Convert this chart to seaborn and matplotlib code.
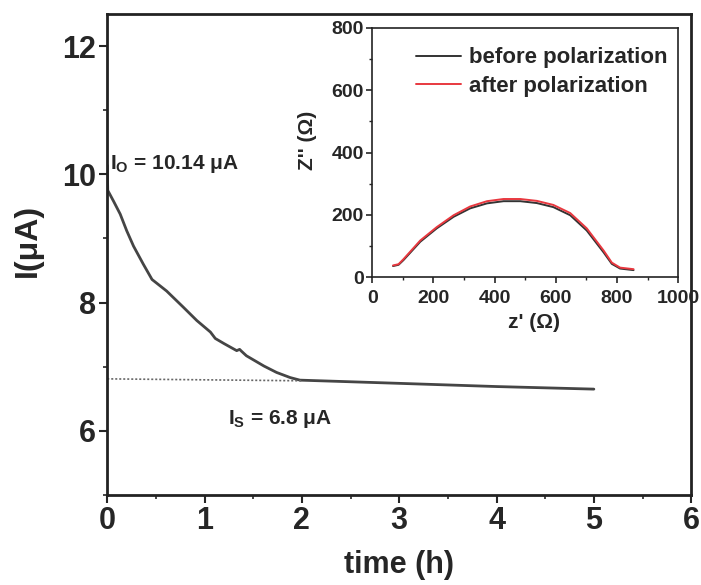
import numpy as np
import pandas as pd
import seaborn as sns
import matplotlib.pyplot as plt
from matplotlib.ticker import MultipleLocator

# Main polarization curve: current (uA) vs time (h)
time_h = [0.0, 0.005, 0.065, 0.133, 0.20, 0.27, 0.37, 0.46, 0.61, 0.78, 0.92, 1.06, 1.11,
          1.20, 1.33, 1.36, 1.38, 1.43, 1.61, 1.74, 1.88, 1.98, 2.39, 3.0, 4.0, 5.0]
current_ua = [10.14, 9.75, 9.58, 9.38, 9.12, 8.88, 8.60, 8.36, 8.18, 7.93, 7.72, 7.54, 7.44,
              7.36, 7.25, 7.27, 7.24, 7.17, 7.01, 6.91, 6.83, 6.79, 6.77, 6.74, 6.69, 6.65]

# steady state guide line
steady_t = [0.0, 2.0]
steady_i = [6.81, 6.78]

# Inset: impedance spectra
zre_before = [68, 86, 102, 157, 211, 266, 320, 375, 429, 484, 538, 592, 647, 701, 756, 783, 810, 854]
zim_before = [36, 40, 55, 114, 157, 194, 221, 237, 244, 244, 238, 225, 199, 150, 80, 43, 28, 23]
zre_after = [68, 86, 102, 157, 211, 266, 320, 375, 429, 484, 538, 592, 647, 701, 756, 783, 810, 854]
zim_after = [38, 42, 58, 118, 161, 199, 227, 244, 251, 251, 245, 232, 206, 157, 86, 47, 31, 26]

df_main = pd.DataFrame({'time': time_h, 'I': current_ua})
df_before = pd.DataFrame({'zre': zre_before, 'zim': zim_before})
df_after = pd.DataFrame({'zre': zre_after, 'zim': zim_after})

sns.set_style('ticks')
plt.rcParams['font.family'] = ['Liberation Sans', 'DejaVu Sans']
plt.rcParams['font.weight'] = 'bold'
plt.rcParams['mathtext.fontset'] = 'custom'
plt.rcParams['mathtext.rm'] = 'Liberation Sans:bold'
plt.rcParams['mathtext.it'] = 'Liberation Sans:bold'
plt.rcParams['mathtext.bf'] = 'Liberation Sans:bold'

fig = plt.figure(figsize=(7.01, 5.85), dpi=100)
ax = fig.add_axes([0.153, 0.154, 0.833, 0.822])

sns.lineplot(data=df_main, x='time', y='I', ax=ax, color='#454545', lw=2.0, sort=False)
ax.plot(steady_t, steady_i, ls=(0, (1.2, 1.2)), color='#666666', lw=1.2)

ax.set_xlim(0, 6)
ax.set_ylim(5, 12.5)
ax.xaxis.set_major_locator(MultipleLocator(1))
ax.xaxis.set_minor_locator(MultipleLocator(0.5))
ax.yaxis.set_major_locator(MultipleLocator(2))
ax.yaxis.set_minor_locator(MultipleLocator(1))
ax.tick_params(which='major', length=6, width=1.5, direction='out', pad=2, labelsize=22)
ax.tick_params(which='minor', length=3, width=1.2, direction='out')
for s in ax.spines.values():
    s.set_linewidth(2)
    s.set_color('#222222')
ax.set_xlabel('time (h)', fontsize=22, fontweight='bold')
ax.set_ylabel('I(μA)', fontsize=23, fontweight='bold')
ax.xaxis.set_label_coords(0.5, -0.115)
ax.yaxis.set_label_coords(-0.11, 0.53)

ax.text(0.03, 10.16, r'$\mathrm{I_O}$ = 10.14 μA', fontsize=15, fontweight='bold',
        va='center', ha='left')
ax.text(1.24, 6.19, r'$\mathrm{I_S}$ = 6.8 μA', fontsize=15, fontweight='bold',
        va='center', ha='left')

# inset
axin = fig.add_axes([0.531, 0.526, 0.4365, 0.4265])
sns.lineplot(data=df_before, x='zre', y='zim', ax=axin, color='#333333', lw=1.4,
             sort=False, label='before polarization')
sns.lineplot(data=df_after, x='zre', y='zim', ax=axin, color='#e8383f', lw=1.4,
             sort=False, label='after polarization')
axin.set_xlim(0, 1000)
axin.set_ylim(0, 800)
axin.xaxis.set_major_locator(MultipleLocator(200))
axin.xaxis.set_minor_locator(MultipleLocator(100))
axin.yaxis.set_major_locator(MultipleLocator(200))
axin.yaxis.set_minor_locator(MultipleLocator(100))
axin.tick_params(which='major', length=4, width=1.2, labelsize=14, pad=2)
axin.tick_params(axis='x', which='major', pad=5)
axin.tick_params(which='minor', length=2, width=1.0)
for s in axin.spines.values():
    s.set_linewidth(1.2)
    s.set_color('#222222')
axin.set_xlabel("z' (Ω)", fontsize=15, fontweight='bold')
axin.set_ylabel("Z'' (Ω)", fontsize=15, fontweight='bold')
axin.xaxis.set_label_coords(0.53, -0.145)
axin.yaxis.set_label_coords(-0.18, 0.55)
leg = axin.legend(loc='upper right', bbox_to_anchor=(1.01, 0.975), frameon=False,
                  fontsize=16, handlelength=2.0, handletextpad=0.4,
                  borderaxespad=0.2, labelspacing=0.35)

fig.savefig('out.png', dpi=100)
